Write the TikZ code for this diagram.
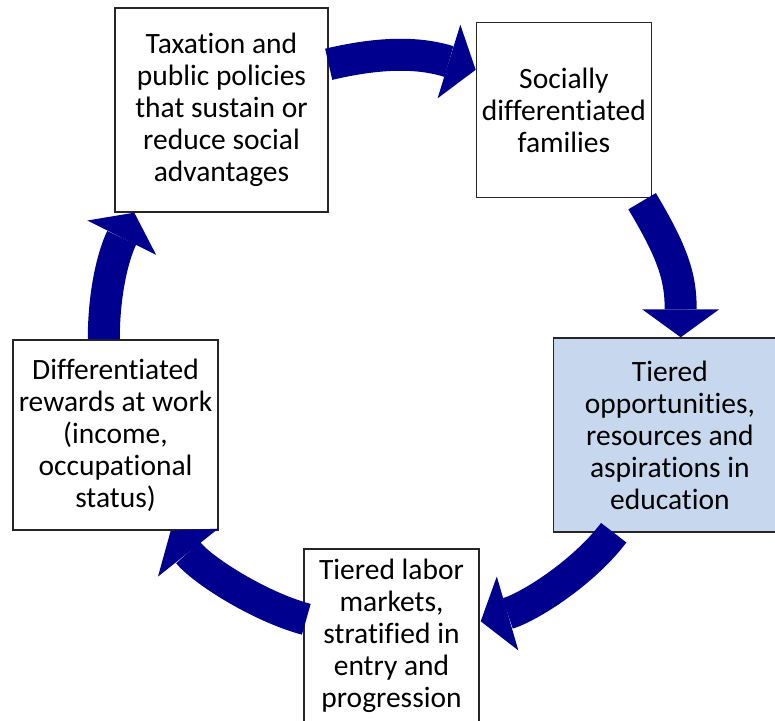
\documentclass[tikz,border=0pt]{standalone}
\usepackage{fontspec}
\setmainfont{Carlito}[Ligatures=NoCommon]
\usetikzlibrary{positioning, arrows.meta}

\definecolor{cyclenavy}{RGB}{0,0,143}
\definecolor{edublue}{RGB}{199,216,238}

\tikzset{
    box/.style={draw=black!85, line width=0.7pt, fill=white, rectangle,
        align=center, inner sep=0pt, font=\fontsize{14.75}{16}\selectfont},
    flow/.style={draw=cyclenavy, line width=16pt,
        -{Triangle[width=38.5pt, length=14pt, line width=0pt]}},
}

\begin{document}
\begin{tikzpicture}[x=0.5pt, y=-0.5pt]

    \useasboundingbox (0,0) rectangle (775,721);
    \clip (0,0) rectangle (775,721);

    \node[box, minimum width=106.5pt, minimum height=102pt] (tax) at (221.5,110)
        {Taxation and\\public policies\\that sustain or\\reduce social\\advantages};
    \node[box, minimum width=87.5pt, minimum height=87.5pt] (fam) [right=73.5pt of tax]
        {Socially\\differentiated\\families};

    \node[box, minimum width=102.5pt, minimum height=95pt] (wrk) at (115.5,435)
        {Differentiated\\rewards at work\\(income,\\occupational\\status)};
    \node[box, fill=edublue, minimum width=116.5pt, minimum height=97pt] (edu) [right=167pt of wrk]
        {Tiered\\opportunities,\\resources and\\aspirations in\\education};

    \node[box, minimum width=87.5pt, minimum height=87pt] (lab) at (391.5,636)
        {Tiered labor\\markets,\\stratified in\\entry and\\progression};

    % the cycle, clockwise from the top left
    \draw[flow] ([shift={(0,57)}]tax.north east)
        .. controls +(55,-13) and +(-55,-17) .. ([shift={(0,48)}]fam.north west);
    \draw[flow] ([shift={(-10,3)}]fam.south east)
        .. controls +(31,52) and +(0,-60) .. ([shift={(128,0)}]edu.north west);
    \draw[flow] ([shift={(61,0)}]edu.south west)
        .. controls +(-30,40) and +(48,-14) .. ([shift={(1,73)}]lab.north east);
    \draw[flow] ([shift={(3,71)}]lab.north west)
        .. controls +(-48,-13) and +(31,39) .. ([shift={(-48,0)}]wrk.south east);
    \draw[flow] ([shift={(91.5,0)}]wrk.north west)
        .. controls +(0,-50) and +(-20,40) .. ([shift={(20,0)}]tax.south west);

\end{tikzpicture}
\end{document}
